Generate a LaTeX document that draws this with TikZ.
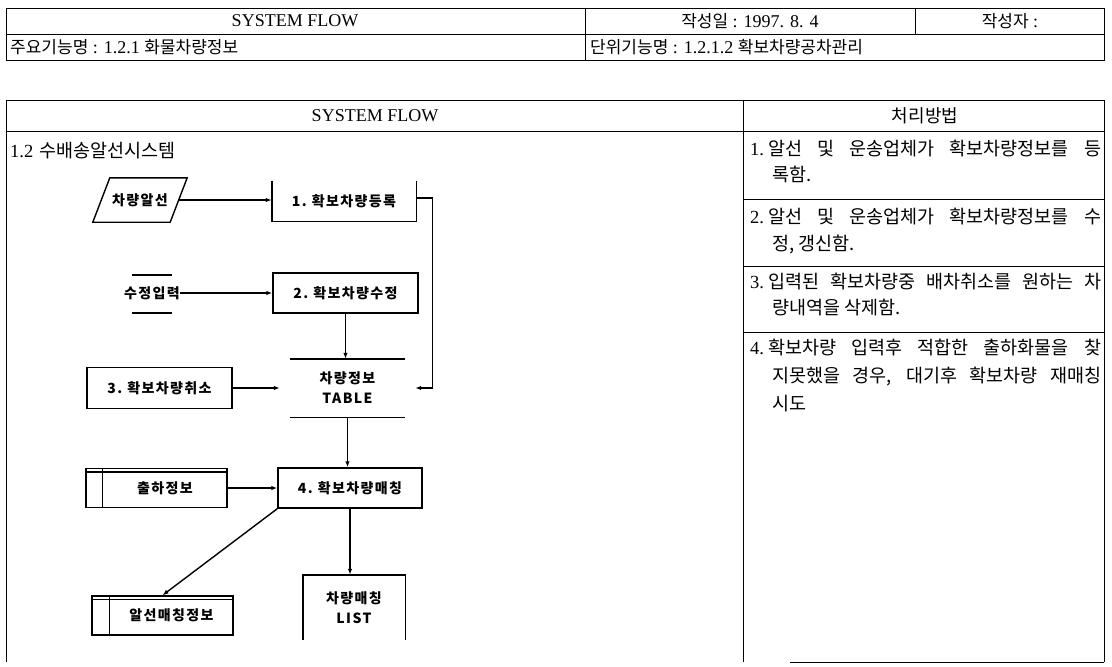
\documentclass[tikz,border=0pt]{standalone}
\usepackage{fontspec}
\setmainfont{Liberation Serif}
\newfontfamily\kr{Noto Sans CJK KR}
\newfontfamily\krd[LetterSpace=10]{Noto Sans CJK KR}
\usetikzlibrary{arrows.meta,calc}
\begin{document}
\begin{tikzpicture}[x=1pt,y=-1pt,
  tline/.style={line width=0.8pt},
  dline/.style={line width=1.4pt},
  arr/.style={dline,-{Latex[length=6pt,width=4.5pt]}},
  box/.style={inner sep=0pt, font=\krd\bfseries\fontsize{14}{20}\selectfont},
  ttext/.style={inner sep=0pt, font=\fontsize{18}{20}\selectfont},
  rline/.style={inner sep=0pt, font=\fontsize{18.5}{21}\selectfont, anchor=west, text height=14pt, text depth=4pt}
]
\useasboundingbox (0,0) rectangle (1112,667);
\fill[white] (0,0) rectangle (1112,667);

% ---------- top header table ----------
\draw[tline] (6,8) rectangle (1104,60);
\draw[tline] (6,34) -- (1104,34);
\draw[tline] (585,8) -- (585,60);
\draw[tline] (915,8) -- (915,34);
\node[ttext] (h1) at (295,21) {SYSTEM FLOW};
\node[ttext] (h2) at (750,21) {{\kr\fontsize{17}{20}\selectfont 작성일} : 1997. 8. 4};
\node[ttext] (h3) at (1010,21) {{\kr\fontsize{17}{20}\selectfont 작성자} :};
\node[ttext,anchor=west] (h4) at (10,47) {{\kr\fontsize{17}{20}\selectfont 주요기능명} : 1.2.1 {\kr\fontsize{17}{20}\selectfont 화물차량정보}};
\node[ttext,anchor=west] (h5) at (590,47) {{\kr\fontsize{17}{20}\selectfont 단위기능명} : 1.2.1.2 {\kr\fontsize{17}{20}\selectfont 확보차량공차관리}};

% ---------- main table ----------
\draw[tline] (6,662) -- (6,100) -- (1104,100) -- (1104,662);
\draw[tline] (743,100) -- (743,662);
\draw[tline] (790,662) -- (1104,662);
\draw[tline] (6,131) -- (1104,131);
\draw[tline] (743,199) -- (1104,199);
\draw[tline] (743,266) -- (1104,266);
\draw[tline] (743,332) -- (1104,332);
\node[ttext] (t1) at (375,116) {SYSTEM FLOW};
\node[ttext] (t2) at (925,116) {\kr 처리방법};
\node[rline] (t3) at (10,152) {1.2\hspace{6pt}{\kr 수배송알선시스템}};

% right column text
\node[rline] (r11) at (750,150) {\makebox[351pt][s]{1.\hspace{4pt}{\kr 알선 및 운송업체가 확보차량정보를 등}}};
\node[rline] (r12) at (772,176) {\kr 록함.};
\node[rline] (r21) at (750,218) {\makebox[351pt][s]{2.\hspace{4pt}{\kr 알선 및 운송업체가 확보차량정보를 수}}};
\node[rline] (r22) at (772,245) {\kr 정, 갱신함.};
\node[rline] (r31) at (750,283) {\makebox[351pt][s]{3.\hspace{4pt}{\kr 입력된 확보차량중 배차취소를 원하는 차}}};
\node[rline] (r32) at (772,309) {\kr 량내역을 삭제함.};
\node[rline] (r41) at (750,349) {\makebox[351pt][s]{4.\hspace{4pt}{\kr 확보차량 입력후 적합한 출하화물을 찾}}};
\node[rline] (r42) at (772,377) {\makebox[329pt][s]{\kr 지못했을 경우, 대기후 확보차량 재매칭}};
\node[rline] (r43) at (772,405) {\kr 시도};

% ---------- flow diagram ----------
\node[box, minimum width=77, minimum height=44] (para) at (140,200) {차량알선};
\draw[dline] ($(para.north west)+(8.5,0)$) -- ($(para.north east)+(8.5,0)$)
  -- ($(para.south east)+(-8.5,0)$) -- ($(para.south west)+(-8.5,0)$) -- cycle;

\node[box, minimum width=144, minimum height=40] (box1) at (344,201) {1.\hspace{5pt}확보차량등록};
\draw[dline] (box1.north west) -- (box1.south west) -- (box1.south east) -- (box1.north east);

\node[box] (mi) at (152,293) {수정입력};
\draw[dline] ($(mi.center)+(-20,-18)$) -- ++(40,0);
\draw[dline] ($(mi.center)+(-20,20)$) -- ++(40,0);

\node[box, draw, dline, minimum width=145, minimum height=40] (box2) at (345.5,293) {2.\hspace{5pt}확보차량수정};

\node[box, minimum width=115, minimum height=58, align=center] (tbl) at (347.5,388) {차량정보\\TABLE};
\draw[dline] (tbl.north west) -- (tbl.north east);
\draw[dline] (tbl.south west) -- (tbl.south east);

\node[box, draw, dline, minimum width=145, minimum height=41] (box3) at (159.5,388) {3.\hspace{5pt}확보차량취소};

\node[box, draw, dline, minimum width=144, minimum height=40] (box4) at (350,488) {4.\hspace{5pt}확보차량매칭};

\node[box, draw, dline, minimum width=141, minimum height=39] (ship) at (156.5,488) {\hspace*{17pt}출하정보};
\draw[dline] ([yshift=-4pt]ship.north west) -- ([yshift=-4pt]ship.north east);
\draw[dline] ([xshift=17pt]ship.north west) -- ([xshift=17pt]ship.south west);

\node[box, draw, dline, minimum width=141, minimum height=39] (amt) at (162.5,615.5) {\hspace*{18pt}알선매칭정보};
\draw[dline] ([yshift=-4pt]amt.north west) -- ([yshift=-4pt]amt.north east);
\draw[dline] ([xshift=18pt]amt.north west) -- ([xshift=18pt]amt.south west);

\node[box, minimum width=102, minimum height=65, align=center] (lst) at (354,607.5) {차량매칭\\LIST};
\draw[dline] (lst.south west) -- (lst.north west) -- (lst.north east) -- (lst.south east);

% connectors
\draw[arr] (para.east) -- (para.east -| box1.west);
\draw[arr] ([yshift=3pt]box1.east) -- ++(16,0) |- ([xshift=10pt]tbl.east);
\draw[arr] (mi.east) -- (box2.west);
\draw[arr] (box2.south) -- (box2.south |- tbl.north);
\draw[arr] (box3.east) -- ([xshift=-10pt]tbl.west);
\draw[arr] (tbl.south) -- (tbl.south |- box4.north);
\draw[arr] (ship.east) -- (box4.west);
\draw[arr] (box4.south west) -- (amt.north);
\draw[arr] (box4.south) -- (box4.south |- lst.north);
\end{tikzpicture}
\end{document}
